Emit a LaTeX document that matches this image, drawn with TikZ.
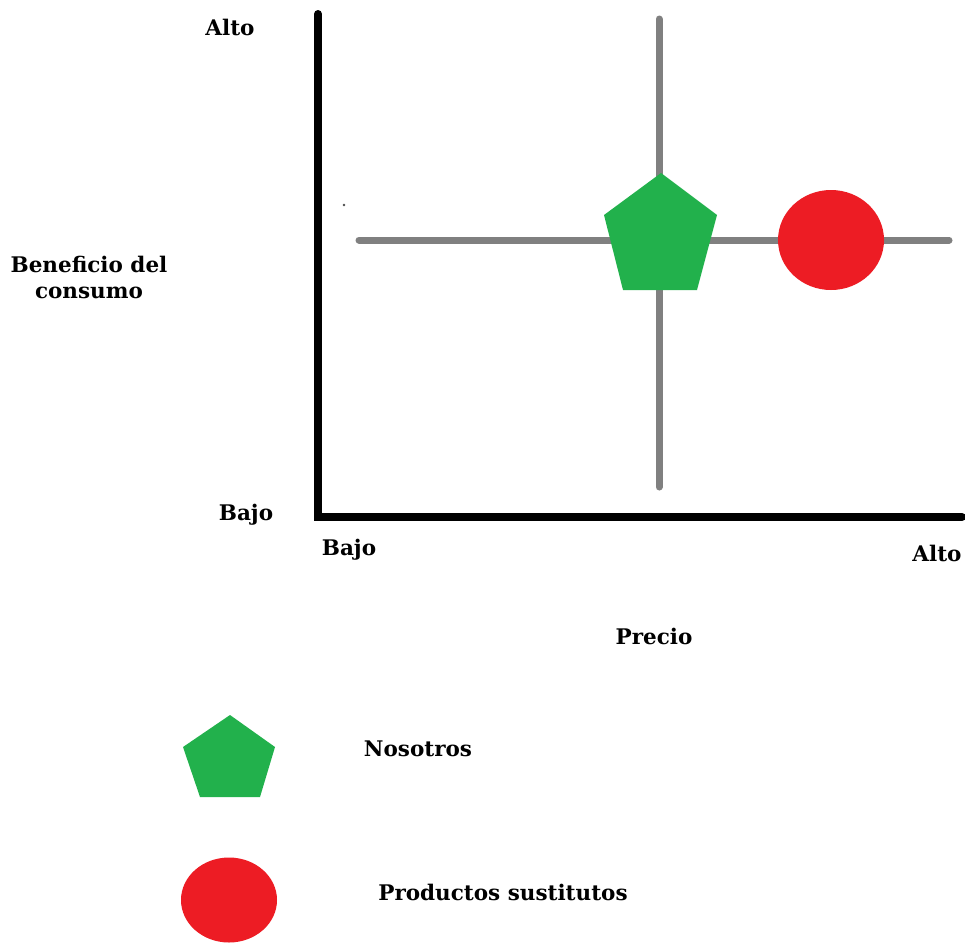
\documentclass[tikz,border=0pt]{standalone}
\usepackage{fontspec}
\setmainfont{DejaVu Serif}
\usetikzlibrary{shapes.geometric}
\definecolor{pgreen}{HTML}{22B14C}
\definecolor{pred}{HTML}{ED1C24}
\definecolor{lgray}{HTML}{808080}
\tikzset{
  lbl/.style={font=\bfseries\fontsize{21.5}{26}\selectfont, text=black, inner sep=0pt, align=center},
  axisline/.style={line width=8pt, black, line cap=round},
  guideline/.style={line width=7pt, lgray, line cap=round},
}
\begin{document}
\begin{tikzpicture}[x=1pt,y=-1pt]
\useasboundingbox[fill=white] (0,0) rectangle (965,943);
% axes
\coordinate (top) at (318,14);
\coordinate (origin) at (318,517);
\coordinate (right) at (962,517);
\draw[axisline] (top) -- (origin) -- (right);
% guide lines
\coordinate (vt) at (659,19);
\coordinate (vb) at (659,487);
\coordinate (hl) at (359,240);
\coordinate (hr) at (949,240);
\draw[guideline] (vt) -- (vb);
\draw[guideline] (hl) -- (hr);
% small dot
\fill[black!70] (344,205) circle (1.3);
% main shapes
\fill[pgreen] (661,173) -- (717,215) -- (697,290) -- (623,290) -- (604,215) -- cycle;
\node[ellipse, fill=pred, minimum width=106, minimum height=100, inner sep=0pt] (sub) at (831,240) {};
% legend
\fill[pgreen] (230,715) -- (275,747) -- (260,797) -- (200,797) -- (183,747) -- cycle;
\node[ellipse, fill=pred, minimum width=96, minimum height=85, inner sep=0pt] (lsub) at (229,900) {};
% labels
\node[lbl] (yalto) at (230,27) {Alto};
\node[lbl] (ytitle) at (89,277) {Beneficio del\\consumo};
\node[lbl] (ybajo) at (246,515) {Bajo};
\node[lbl] (xbajo) at (349,550) {Bajo};
\node[lbl] (xalto) at (937,553) {Alto};
\node[lbl] (xtitle) at (654,636) {Precio};
\node[lbl] (lnos) at (418,749) {Nosotros};
\node[lbl] (lprod) at (503,892) {Productos sustitutos};
\end{tikzpicture}
\end{document}
